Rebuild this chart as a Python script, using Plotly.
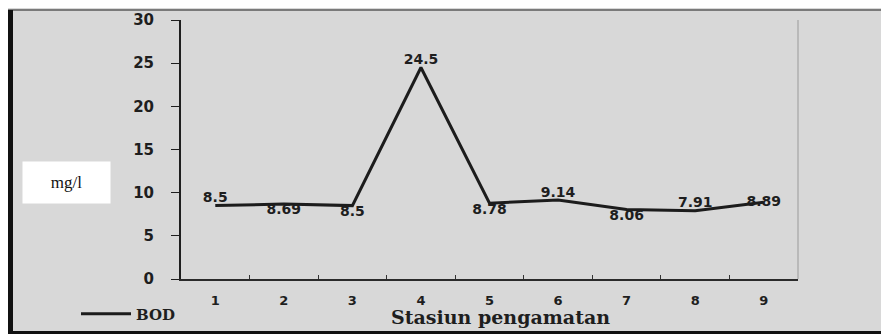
import plotly.graph_objects as go

stations = ["1", "2", "3", "4", "5", "6", "7", "8", "9"]
bod = [8.5, 8.69, 8.5, 24.5, 8.78, 9.14, 8.06, 7.91, 8.89]
labels = ["8.5", "8.69", "8.5", "24.5", "8.78", "9.14", "8.06", "7.91", "8.89"]
label_pos = ["top center", "bottom center", "bottom center", "top center",
             "bottom center", "top center", "bottom center", "top center",
             "middle center"]
series_name = "BOD"
y_title = "mg/l"
x_title = "Stasiun pengamatan"

# page body has an 8px margin, so the figure is drawn from (8, 8)
OFF = 8
W, H = 889 - OFF, 334 - OFF
L, R, T, B = 181 - OFF, 889 - 798, 20 - OFF, 334 - 279
PW, PH = W - L - R, H - T - B

def px(x):  # x in screenshot pixels
    return (x - OFF - L) / PW

def py(y):  # y in screenshot pixels
    return (H - B - (y - OFF)) / PH

GREY = "#d8d8d8"
num_font = dict(family="DejaVu Sans", size=14, color="#1e1e1e", weight="bold")
ytick_font = dict(family="DejaVu Sans", size=15, color="#1e1e1e", weight="bold")
xtick_font = dict(family="DejaVu Sans", size=13, color="#1e1e1e", weight="bold")

fig = go.Figure()
fig.add_trace(go.Scatter(
    x=stations, y=bod, name=series_name, mode="lines+text",
    text=labels, textposition=label_pos, textfont=num_font,
    line=dict(color="#1c1c1c", width=3),
))

shapes = [
    # top border line
    dict(type="line", xref="paper", yref="paper", x0=px(8), x1=px(900),
         y0=py(10), y1=py(10), line=dict(color="#7a7a7a", width=2)),
    # left thick black border
    dict(type="rect", xref="paper", yref="paper", x0=px(7), x1=px(13),
         y0=py(340), y1=py(10), fillcolor="#111111", line_width=0),
    # bottom black border
    dict(type="rect", xref="paper", yref="paper", x0=px(7), x1=px(900),
         y0=py(340), y1=py(331), fillcolor="#111111", line_width=0),
    # faint right edge of plot area
    dict(type="line", xref="paper", yref="paper", x0=1, x1=1,
         y0=0, y1=1, line=dict(color="#9a9a9a", width=1)),
]

annotations = [
    dict(text=y_title, xref="paper", yref="paper", x=px(66.5), y=py(182.5),
         xanchor="center", yanchor="middle", showarrow=False,
         font=dict(family="Liberation Serif", size=17, color="#111111"),
         bgcolor="white", width=87, height=41, borderpad=0),
    dict(text=x_title, xref="paper", yref="paper", x=px(500), y=py(317),
         xanchor="center", yanchor="middle", showarrow=False,
         font=dict(family="DejaVu Serif", size=19, color="#1e1e1e", weight="bold")),
]

fig.update_layout(
    width=W, height=H,
    margin=dict(l=L, r=R, t=T, b=B, autoexpand=False),
    paper_bgcolor=GREY, plot_bgcolor=GREY,
    showlegend=True,
    legend=dict(orientation="h", x=px(76), y=py(314), xanchor="left",
                yanchor="middle", bgcolor="rgba(0,0,0,0)",
                font=dict(family="DejaVu Serif", size=15, color="#1e1e1e",
                          weight="bold"),
                itemwidth=50),
    shapes=shapes,
    annotations=annotations,
    xaxis=dict(type="category", range=[-0.5, 8.5], tickson="boundaries",
               ticks="inside", ticklen=4, tickcolor="#333333",
               showline=True, linecolor="#2a2a2a", linewidth=2,
               showgrid=False, zeroline=False, tickfont=xtick_font,
               ticklabelstandoff=8, fixedrange=True),
    yaxis=dict(range=[0, 30], dtick=5, ticks="outside", ticklen=8,
               tickcolor="#1e1e1e", showline=True, linecolor="#1e1e1e",
               linewidth=2, showgrid=False, zeroline=False, tickfont=ytick_font,
               ticklabelstandoff=14, fixedrange=True),
)

fig.write_html("out.html")
